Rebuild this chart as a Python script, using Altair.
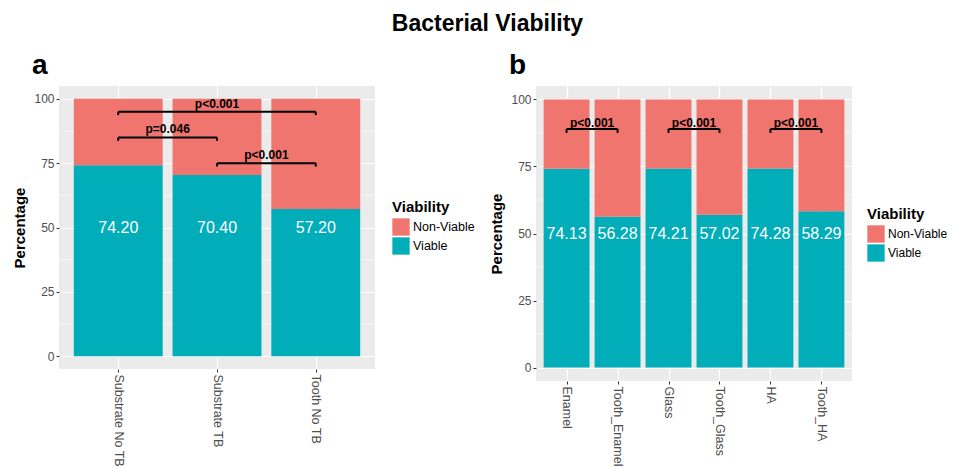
import json
import pandas as pd
import altair as alt

FONT = "Liberation Sans"

# ---- data ----
groups_a = ["Substrate No TB", "Substrate TB", "Tooth No TB"]
viable_a = [74.20, 70.40, 57.20]
brk_a_start = [0, 0, 1]
brk_a_end = [2, 1, 2]
brk_a_y = [95.0, 85.0, 75.0]
brk_a_label = ["p<0.001", "p=0.046", "p<0.001"]

groups_b = ["Enamel", "Tooth_Enamel", "Glass", "Tooth_Glass", "HA", "Tooth_HA"]
viable_b = [74.13, 56.28, 74.21, 57.02, 74.28, 58.29]
brk_b_start = [0, 2, 4]
brk_b_end = [1, 3, 5]
brk_b_y = [89.0, 89.0, 89.0]
brk_b_label = ["p<0.001", "p<0.001", "p<0.001"]

categories = ["Non-Viable", "Viable"]
colors = ["#F0756F", "#00ADB9"]
y_ticks = [0, 25, 50, 75, 100]
y_minor = [12.5, 37.5, 62.5, 87.5]


def panel(groups, viable, starts, ends, ys, labels, width, height, letter,
          legend_x, legend_y, legend_font, tip, text_dy):
    n = len(groups)
    rows = []
    for i, (g, v) in enumerate(zip(groups, viable)):
        rows.append({"idx": i, "group": g, "Viability": "Viable", "y0": 0.0, "y1": v,
                     "xa": i - 0.45, "xb": i + 0.45})
        rows.append({"idx": i, "group": g, "Viability": "Non-Viable", "y0": v, "y1": 100.0,
                     "xa": i - 0.45, "xb": i + 0.45})
    bars_df = pd.DataFrame(rows)
    lab_df = pd.DataFrame({"idx": list(range(n)), "val": viable,
                           "txt": [f"{v:.2f}" for v in viable]})
    brk_df = pd.DataFrame({"x1": starts, "x2": ends, "y": ys, "label": labels})
    brk_df["xm"] = (brk_df["x1"] + brk_df["x2"]) / 2
    tips = []
    for s, e, y in zip(starts, ends, ys):
        tips.append({"x": s, "y": y, "yt": y - tip})
        tips.append({"x": e, "y": y, "yt": y - tip})
    tips_df = pd.DataFrame(tips)
    minor_df = pd.DataFrame({"m": y_minor})

    xscale = alt.Scale(domain=[-0.6, n - 0.4], nice=False, zero=False)
    yscale = alt.Scale(domain=[-5, 105], nice=False, zero=False)
    xaxis = alt.Axis(values=list(range(n)), labelExpr=f"{json.dumps(groups)}[datum.value]",
                     labelAngle=90, labelAlign="left", labelBaseline="middle",
                     title=None, grid=True, gridColor="white", gridWidth=1.2,
                     tickColor="#333333", tickSize=3, labelPadding=2, domain=False,
                     labelFontSize=12.5, labelColor="#4D4D4D", labelOverlap=False,
                     labelBound=False, labelFlush=False, labelFont=FONT)
    yaxis = alt.Axis(values=y_ticks, title="Percentage", titleFontSize=15,
                     titleFontWeight="bold", titleColor="black", titleFont=FONT,
                     labelFontSize=12, labelColor="#4D4D4D", labelFont=FONT,
                     tickColor="#333333", tickSize=3, labelPadding=2,
                     gridColor="white", gridWidth=1.2, domain=False, titlePadding=6)

    minor = alt.Chart(minor_df).mark_rule(color="white", strokeWidth=0.6).encode(
        y=alt.Y("m:Q", scale=yscale, axis=yaxis))
    bars = alt.Chart(bars_df).mark_bar().encode(
        x=alt.X("xa:Q", scale=xscale, axis=xaxis),
        x2="xb:Q",
        y=alt.Y("y0:Q", scale=yscale, axis=yaxis),
        y2="y1:Q",
        color=alt.Color("Viability:N", scale=alt.Scale(domain=categories, range=colors),
                        legend=alt.Legend(orient="none", legendX=legend_x, legendY=legend_y,
                                          title="Viability", titleFontSize=15,
                                          titleFontWeight="bold", titleColor="black",
                                          titleFont=FONT, labelFont=FONT,
                                          labelFontSize=legend_font, labelColor="black",
                                          symbolType="square", symbolSize=300,
                                          symbolStrokeWidth=0, symbolOpacity=1,
                                          rowPadding=1, labelOffset=3, titlePadding=3,
                                          padding=0)),
    )
    vals = alt.Chart(lab_df).mark_text(color="white", fontSize=16, font=FONT).encode(
        x=alt.X("idx:Q", scale=xscale), y=alt.datum(50), text="txt:N")
    hline = alt.Chart(brk_df).mark_rule(color="black", strokeWidth=2).encode(
        x=alt.X("x1:Q", scale=xscale), x2="x2:Q", y=alt.Y("y:Q", scale=yscale))
    vline = alt.Chart(tips_df).mark_rule(color="black", strokeWidth=2).encode(
        x=alt.X("x:Q", scale=xscale), y=alt.Y("y:Q", scale=yscale), y2="yt:Q")
    ptxt = alt.Chart(brk_df).mark_text(color="black", fontSize=12, fontWeight="bold",
                                       font=FONT, baseline="alphabetic", dy=text_dy).encode(
        x=alt.X("xm:Q", scale=xscale), y=alt.Y("y:Q", scale=yscale), text="label:N")

    return alt.layer(minor, bars, vals, hline, vline, ptxt).properties(
        width=width, height=height,
        title=alt.TitleParams(letter, anchor="start", frame="group", dx=-27,
                              fontSize=28, fontWeight="bold", font=FONT, color="black",
                              offset=6))


pa = panel(groups_a, viable_a, brk_a_start, brk_a_end, brk_a_y, brk_a_label,
           316, 283, "a", 333, 114, 12.5, 1.3, -4)
pb = panel(groups_b, viable_b, brk_b_start, brk_b_end, brk_b_y, brk_b_label,
           316, 295, "b", 331, 121, 12, 1.5, -2)

chart = alt.hconcat(pa, pb, spacing=14).resolve_scale(color="independent").resolve_legend(
    color="independent").properties(
    title=alt.TitleParams("Bacterial Viability", fontSize=23, fontWeight="bold", font=FONT,
                          color="black", anchor="middle", dx=7, offset=16),
    padding={"left": 4, "top": 5, "right": 0, "bottom": 0},
).configure_view(fill="#EBEBEB", stroke=None)

chart.save("out.html", embed_options={"renderer": "svg", "actions": False})
